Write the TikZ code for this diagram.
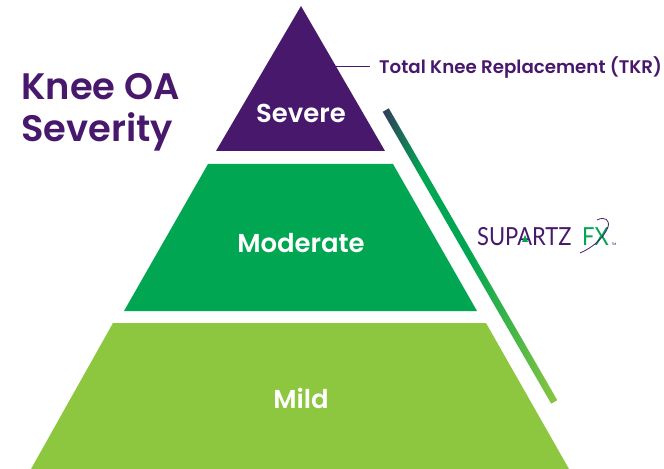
\documentclass[tikz,border=0pt]{standalone}
\usepackage{fontspec}
\setmainfont[BoldFont={Poppins SemiBold}]{Poppins}
\newfontfamily\logofont{Lato}
\usetikzlibrary{positioning}
\definecolor{oapurple}{RGB}{72,24,108}
\definecolor{oagreen}{RGB}{0,166,81}
\definecolor{oalime}{RGB}{141,198,63}
\definecolor{oaslate}{RGB}{52,56,92}
\pgfdeclarehorizontalshading{barfade}{100bp}{color(0bp)=(oaslate); color(25bp)=(oaslate); color(36bp)=(oagreen); color(50bp)=(oagreen); color(75bp)=(oalime); color(100bp)=(oalime)}

\begin{document}
\begin{tikzpicture}[x=1bp,y=-1bp]
% -------------------------------------------------
% A few styles
\tikzset{
  tier/.style={font=\fontsize{26}{28}\selectfont\bfseries, text=white, inner sep=0pt},
  head/.style={font=\fontsize{37}{42}\selectfont\bfseries, text=oapurple, align=left, inner sep=0pt},
  note/.style={font=\fontsize{18.3}{20}\selectfont\bfseries, text=oapurple, inner sep=0pt},
  logo/.style={font=\fontsize{25}{28}\logofont, xscale=0.88, inner sep=0pt},
  fade/.style={rectangle, rotate=-60, minimum width=337bp, minimum height=7bp, inner sep=0pt, shading=barfade},
}
\useasboundingbox (0,0) rectangle (664,469);
% -------------------------------------------------
% Start by placing the tiers
\fill [oapurple] (301,6) -- (385,151) -- (216,151) -- cycle;
\fill [oagreen] (208,164) -- (393,164) -- (477,311) -- (124,311) -- cycle;
\fill [oalime] (113,323) -- (486,323) -- (569,469) -- (31,469) -- cycle;
% -------------------------------------------------
% Now the labels
\node [tier] (severe) at (301,113) {Severe};
\node [tier] (moderate) at (301,243) {Moderate};
\node [tier] (mild) at (301,398) {Mild};
\node [head, anchor=north west] (title) at (21,73) {Knee OA\\Severity};
% -------------------------------------------------
% TKR note with its leader
\node [note, anchor=west] (tkr) at (379,67) {Total Knee Replacement (TKR)};
\coordinate (tkredge) at (335,66);
\draw [oapurple, line width=0.7bp] (tkredge) -- ([xshift=-9bp]tkr.west |- tkredge);
% -------------------------------------------------
% The long bar beside the pyramid
\node [fade] (bar) at (470,256) {};
% -------------------------------------------------
% Logo
\node [logo, text=oapurple, anchor=west] (supartz) at (477,237) {SUPARTZ};
\node [logo, text=oagreen, anchor=west] (fx) at (582,237) {FX};
\fill [oagreen] (525,235) -- (528,242) -- (522,242) -- cycle;
\draw [oapurple, line width=0.8bp] (580,253) .. controls (592,248) and (604,238) .. (608,227) .. controls (610,220) and (605,216) .. (597,220);
\node [text=oapurple, font=\fontsize{3.5}{4}\selectfont, inner sep=0pt] (tm) at (614,244) {TM};
\end{tikzpicture}
\end{document}
